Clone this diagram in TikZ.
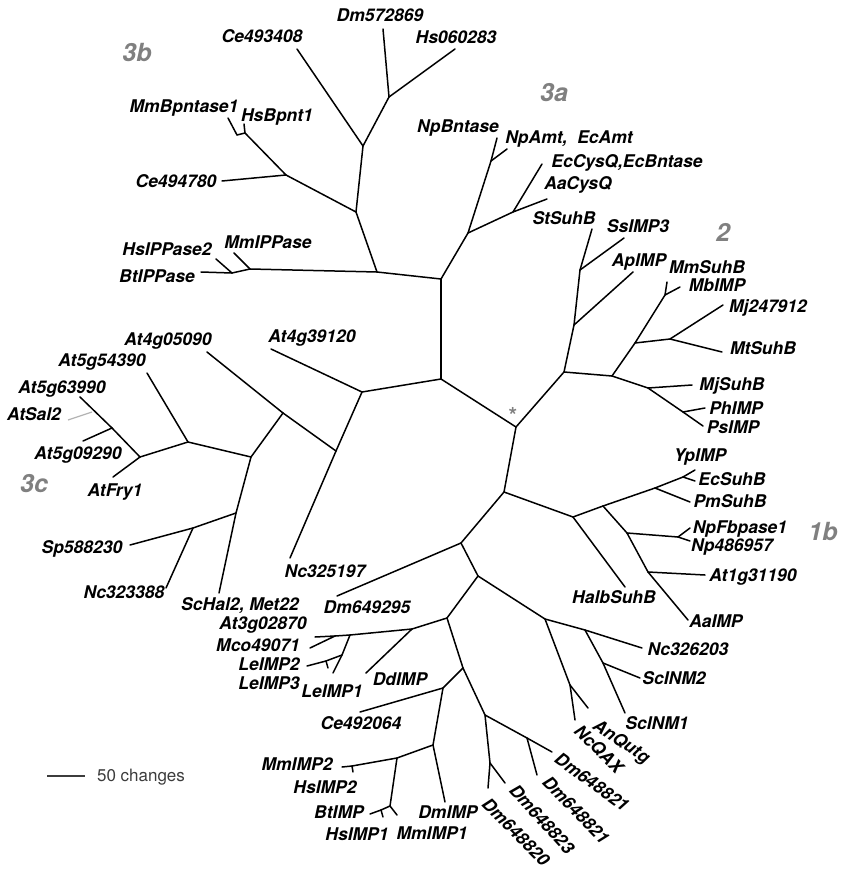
\documentclass[tikz,border=0pt]{standalone}
\usepackage{fontspec}
\setmainfont{TeX Gyre Heros}
\definecolor{cladegray}{RGB}{128,128,128}
\definecolor{bargray}{RGB}{60,60,60}
\begin{document}
\begin{tikzpicture}[x=1pt,y={(0pt,-1pt)},
  br/.style={line width=1.5pt, line cap=round, line join=round},
  lab/.style={font=\fontsize{17.5}{20}\selectfont\bfseries\itshape, inner sep=0pt, text height=12.6pt, text depth=0pt},
  clade/.style={font=\fontsize{25}{28}\selectfont\bfseries\itshape, text=cladegray, inner sep=0pt, text height=18pt, text depth=0pt},
  scalelab/.style={font=\fontsize{17}{20}\selectfont, text=bargray, inner sep=0pt, text height=12.3pt, text depth=0pt}]
\useasboundingbox (0,0) rectangle (842,869);
% ---------- coordinates: clade 3b
\coordinate (n1) at (441,279);
\coordinate (nB) at (377,272);
\coordinate (nD) at (250,269);
\coordinate (nE) at (232,273);
\coordinate (lfMmIPPase) at (234,253);
\coordinate (lfHsIPPase2) at (216,259);
\coordinate (lfBtIPPase) at (201,272);
\coordinate (nC) at (356,212);
\coordinate (nF) at (363,146);
\coordinate (nH) at (389,97);
\coordinate (lfCe493408) at (297,49);
\coordinate (lfDm572869) at (383,29);
\coordinate (lfHs060283) at (455,49);
\coordinate (nG) at (286,175);
\coordinate (lfCe494780) at (222,181);
\coordinate (nI) at (245,133);
\coordinate (nJ) at (237,135);
\coordinate (lfHsBpnt1) at (244,124);
\coordinate (lfMmBpntase1) at (228,118);
% clade 3a
\coordinate (nA) at (468,233);
\coordinate (nK) at (491,161);
\coordinate (nL) at (513,212);
\coordinate (lfNpBntase) at (497,138);
\coordinate (lfNpAmt) at (507,149);
\coordinate (lfEcCysQ) at (542,164);
\coordinate (lfAaCysQ) at (547,199);
% clade 2
\coordinate (nM) at (564,372);
\coordinate (nN) at (574,325);
\coordinate (nP) at (580,270);
\coordinate (lfStSuhB) at (592,229);
\coordinate (lfSsIMP3) at (624,238);
\coordinate (lfApIMP) at (633,272);
\coordinate (nO) at (612,376);
\coordinate (nQ) at (635,343);
\coordinate (nT) at (665,295);
\coordinate (lfMmSuhB) at (667,282);
\coordinate (lfMbIMP) at (680,287);
\coordinate (nU) at (670,339);
\coordinate (lfMj247912) at (723,305);
\coordinate (lfMtSuhB) at (722,352);
\coordinate (nR) at (648,388);
\coordinate (lfMjSuhB) at (692,385);
\coordinate (nV) at (683,412);
\coordinate (lfPhIMP) at (705,408);
\coordinate (lfPsIMP) at (703,426);
% centre
\coordinate (nS) at (516,427);
\coordinate (n0) at (441,379);
% clade 3c
\coordinate (nX) at (362,392);
\coordinate (lfAt4g39120) at (271,349);
\coordinate (nY) at (336,451);
\coordinate (lfNc325197) at (290,558);
\coordinate (nZ) at (283,413);
\coordinate (lfAt4g05090) at (207,352);
\coordinate (c1) at (251,457);
\coordinate (c2) at (188,442);
\coordinate (lfAt5g54390) at (147,373);
\coordinate (c4) at (140,457);
\coordinate (c5) at (112,428);
\coordinate (lfAt5g63990) at (80,397);
\coordinate (lfAt5g09290) at (83,441);
\coordinate (lfAtFry1) at (113,477);
\coordinate (c3) at (236,513);
\coordinate (c6) at (193,528);
\coordinate (lfSp588230) at (130,545);
\coordinate (lfNc323388) at (166,588);
\coordinate (lfScHal2) at (219,593);
\coordinate (sal1) at (68,420);
\coordinate (sal2) at (92,412);
% clade 1b
\coordinate (nW) at (504,492);
\coordinate (b1) at (573,517);
\coordinate (lfHalbSuhB) at (625,587);
\coordinate (b2) at (603,506);
\coordinate (b3) at (655,488);
\coordinate (lfPmSuhB) at (690,502);
\coordinate (b5) at (683,477);
\coordinate (lfYpIMP) at (695,470);
\coordinate (lfEcSuhB) at (695,481);
\coordinate (b4) at (627,533);
\coordinate (b6) at (678,537);
\coordinate (lfNpFbpase1) at (690,528);
\coordinate (lfNp486957) at (690,541);
\coordinate (b7) at (648,572);
\coordinate (lfAt1g31190) at (705,575);
\coordinate (lfAaIMP) at (688,620);
% clade 1a
\coordinate (d1) at (461,543);
\coordinate (lfDm649295) at (337,596);
\coordinate (d2) at (478,576);
\coordinate (d4) at (545,619);
\coordinate (d5) at (585,630);
\coordinate (lfNc326203) at (642,648);
\coordinate (d7) at (603,663);
\coordinate (lfScINM2) at (640,678);
\coordinate (lfScINM1) at (625,713);
\coordinate (d6) at (570,685);
\coordinate (lfNcQAX) at (575,720);
\coordinate (lfAnQutg) at (588,708);
\coordinate (d3) at (447,618);
\coordinate (e1) at (412,629);
\coordinate (lfDdIMP) at (366,673);
\coordinate (e3) at (350,635);
\coordinate (e4) at (335,636);
\coordinate (lfAt3g02870) at (315,637);
\coordinate (lfMco49071) at (310,648);
\coordinate (e5) at (342,655);
\coordinate (lfLeIMP1) at (333,673);
\coordinate (e6) at (326,661);
\coordinate (lfLeIMP2) at (307,666);
\coordinate (lfLeIMP3) at (328,668);
\coordinate (e2) at (463,668);
\coordinate (e7) at (443,688);
\coordinate (lfCe492064) at (360,712);
\coordinate (e9) at (433,745);
\coordinate (lfDmIMP) at (445,802);
\coordinate (e10) at (397,758);
\coordinate (e11) at (352,766);
\coordinate (lfMmIMP2) at (342,767);
\coordinate (lfHsIMP2) at (353,772);
\coordinate (e12) at (390,806);
\coordinate (e13) at (381,810);
\coordinate (lfBtIMP) at (370,814);
\coordinate (lfHsIMP1) at (383,817);
\coordinate (lfMmIMP1) at (397,815);
\coordinate (e8) at (485,715);
\coordinate (f1) at (527,738);
\coordinate (lfDmA) at (552,752);
\coordinate (lfDmB) at (537,775);
\coordinate (f2) at (490,763);
\coordinate (lfDm648823) at (505,783);
\coordinate (lfDm648820) at (488,788);
% scale bar
\coordinate (sb1) at (47,776);
\coordinate (sb2) at (85,776);
% ---------- branches
\foreach \a/\b in {n1/nB, n1/nA, n1/n0,
  nB/nD, nB/nC, nD/lfMmIPPase, nD/nE, nE/lfHsIPPase2, nE/lfBtIPPase,
  nC/nF, nC/nG, nF/lfCe493408, nF/nH, nH/lfDm572869, nH/lfHs060283,
  nG/lfCe494780, nG/nI, nI/lfHsBpnt1, nI/nJ, nJ/lfMmBpntase1,
  nA/nK, nA/nL, nK/lfNpBntase, nK/lfNpAmt, nL/lfEcCysQ, nL/lfAaCysQ,
  nS/nM, nS/n0, nS/nW,
  nM/nN, nM/nO, nN/nP, nN/lfApIMP, nP/lfStSuhB, nP/lfSsIMP3,
  nO/nQ, nO/nR, nQ/nT, nQ/nU, nT/lfMmSuhB, nT/lfMbIMP, nU/lfMj247912, nU/lfMtSuhB,
  nR/lfMjSuhB, nR/nV, nV/lfPhIMP, nV/lfPsIMP,
  n0/nX, nX/lfAt4g39120, nX/nY, nY/lfNc325197, nY/nZ, nZ/lfAt4g05090, nZ/c1,
  c1/c2, c1/c3, c2/lfAt5g54390, c2/c4, c4/c5, c4/lfAtFry1, c5/lfAt5g63990, c5/lfAt5g09290,
  c3/c6, c3/lfScHal2, c6/lfSp588230, c6/lfNc323388,
  nW/b1, nW/d1, b1/lfHalbSuhB, b1/b2, b2/b3, b2/b4, b3/lfPmSuhB, b3/b5, b5/lfYpIMP, b5/lfEcSuhB,
  b4/b6, b4/b7, b6/lfNpFbpase1, b6/lfNp486957, b7/lfAt1g31190, b7/lfAaIMP,
  d1/lfDm649295, d1/d2, d2/d3, d2/d4, d4/d5, d4/d6, d5/lfNc326203, d5/d7, d7/lfScINM2, d7/lfScINM1,
  d6/lfNcQAX, d6/lfAnQutg,
  d3/e1, d3/e2, e1/lfDdIMP, e1/e3, e3/e4, e3/e5, e4/lfAt3g02870, e4/lfMco49071, e5/lfLeIMP1, e5/e6,
  e6/lfLeIMP2, e6/lfLeIMP3,
  e2/e7, e2/e8, e7/lfCe492064, e7/e9, e9/lfDmIMP, e9/e10, e10/e11, e10/e12, e11/lfMmIMP2, e11/lfHsIMP2,
  e12/e13, e12/lfMmIMP1, e13/lfBtIMP, e13/lfHsIMP1,
  e8/f1, e8/f2, f1/lfDmA, f1/lfDmB, f2/lfDm648823, f2/lfDm648820}
  \draw[br] (\a) -- (\b);
\draw[line width=1.2pt, black!30] (sal1) -- (sal2);
\draw[line width=1.3pt, bargray] (sb1) -- (sb2);
% ---------- labels
\node[lab] (tCe493408) at (262,36) {Ce493408};
\node[lab] (tDm572869) at (380,15) {Dm572869};
\node[lab] (tHs060283) at (456,37) {Hs060283};
\node[lab] (tMmBpntase1) at (184,106) {MmBpntase1};
\node[lab] (tHsBpnt1) at (277,115) {HsBpnt1};
\node[lab] (tCe494780) at (176,181) {Ce494780};
\node[lab] (tHsIPPase2) at (167,249) {HsIPPase2};
\node[lab] (tMmIPPase) at (268,242) {MmIPPase};
\node[lab] (tBtIPPase) at (157,276) {BtIPPase};
\node[lab] (tNpBntase) at (458,126) {NpBntase};
\node[lab] (tNpAmt) at (569,137) {NpAmt,\ \ EcAmt};
\node[lab] (tEcCysQ) at (627,161) {EcCysQ,EcBntase};
\node[lab] (tAaCysQ) at (578,183) {AaCysQ};
\node[lab] (tStSuhB) at (564,218) {StSuhB};
\node[lab] (tSsIMP3) at (638,226) {SsIMP3};
\node[lab] (tApIMP) at (639,260) {ApIMP};
\node[lab] (tMmSuhB) at (707,267) {MmSuhB};
\node[lab] (tMbIMP) at (717,285) {MbIMP};
\node[lab] (tMj247912) at (768,306) {Mj247912};
\node[lab] (tMtSuhB) at (763,348) {MtSuhB};
\node[lab] (tMjSuhB) at (732,384) {MjSuhB};
\node[lab] (tPhIMP) at (736,408) {PhIMP};
\node[lab] (tPsIMP) at (733,427) {PsIMP};
\node[lab] (tYpIMP) at (700,455) {YpIMP};
\node[lab] (tEcSuhB) at (732,479) {EcSuhB};
\node[lab] (tPmSuhB) at (730,501) {PmSuhB};
\node[lab] (tNpFbpase1) at (740,527) {NpFbpase1};
\node[lab] (tNp486957) at (732,545) {Np486957};
\node[lab] (tAt1g31190) at (753,575) {At1g31190};
\node[lab] (tHalbSuhB) at (614,597) {HalbSuhB};
\node[lab] (tAaIMP) at (716,621) {AaIMP};
\node[lab] (tNc326203) at (688,649) {Nc326203};
\node[lab] (tScINM2) at (674,678) {ScINM2};
\node[lab] (tScINM1) at (657,723) {ScINM1};
\node[lab, rotate=-34] (tAnQutg) at (622,741) {AnQutg};
\node[lab, rotate=-45] (tNcQAX) at (599,749) {NcQAX};
\node[lab, rotate=-36] (tDmA) at (592,782) {Dm648821};
\node[lab, rotate=-46] (tDmB) at (576,810) {Dm648821};
\node[lab, rotate=-48] (tDm648823) at (542,819) {Dm648823};
\node[lab, rotate=-45] (tDm648820) at (516,832) {Dm648820};
\node[lab] (tDmIMP) at (448,812) {DmIMP};
\node[lab] (tMmIMP1) at (432,833) {MmIMP1};
\node[lab] (tHsIMP1) at (357,834) {HsIMP1};
\node[lab] (tBtIMP) at (339,812) {BtIMP};
\node[lab] (tHsIMP2) at (325,787) {HsIMP2};
\node[lab] (tMmIMP2) at (297,764) {MmIMP2};
\node[lab] (tCe492064) at (361,723) {Ce492064};
\node[lab] (tDdIMP) at (400,679) {DdIMP};
\node[lab] (tLeIMP1) at (332,691) {LeIMP1};
\node[lab] (tLeIMP3) at (269,683) {LeIMP3};
\node[lab] (tLeIMP2) at (269,664) {LeIMP2};
\node[lab] (tMco49071) at (258,645) {Mco49071};
\node[lab] (tAt3g02870) at (263,623) {At3g02870};
\node[lab] (tScHal2) at (240,604) {ScHal2, Met22};
\node[lab] (tDm649295) at (367,607) {Dm649295};
\node[lab] (tNc323388) at (124,592) {Nc323388};
\node[lab] (tNc325197) at (325,571) {Nc325197};
\node[lab] (tSp588230) at (82,547) {Sp588230};
\node[lab] (tAtFry1) at (115,490) {AtFry1};
\node[lab] (tAt5g09290) at (78,453) {At5g09290};
\node[lab] (tAtSal2) at (34,414) {AtSal2};
\node[lab] (tAt5g63990) at (62,387) {At5g63990};
\node[lab] (tAt5g54390) at (102,360) {At5g54390};
\node[lab] (tAt4g05090) at (168,339) {At4g05090};
\node[lab] (tAt4g39120) at (312,336) {At4g39120};
% clade labels
\node[clade] (k3b) at (137,53) {3b};
\node[clade] (k3a) at (554,93) {3a};
\node[clade] (k2) at (723,232) {2};
\node[clade] (k1b) at (823,531) {1b};
\node[clade] (k3c) at (34,483) {3c};
\node[font=\fontsize{22}{24}\selectfont\bfseries, text=cladegray, inner sep=0pt] (star) at (513,415) {*};
\node[scalelab] (tscale) at (141,775) {50 changes};
\end{tikzpicture}
\end{document}
